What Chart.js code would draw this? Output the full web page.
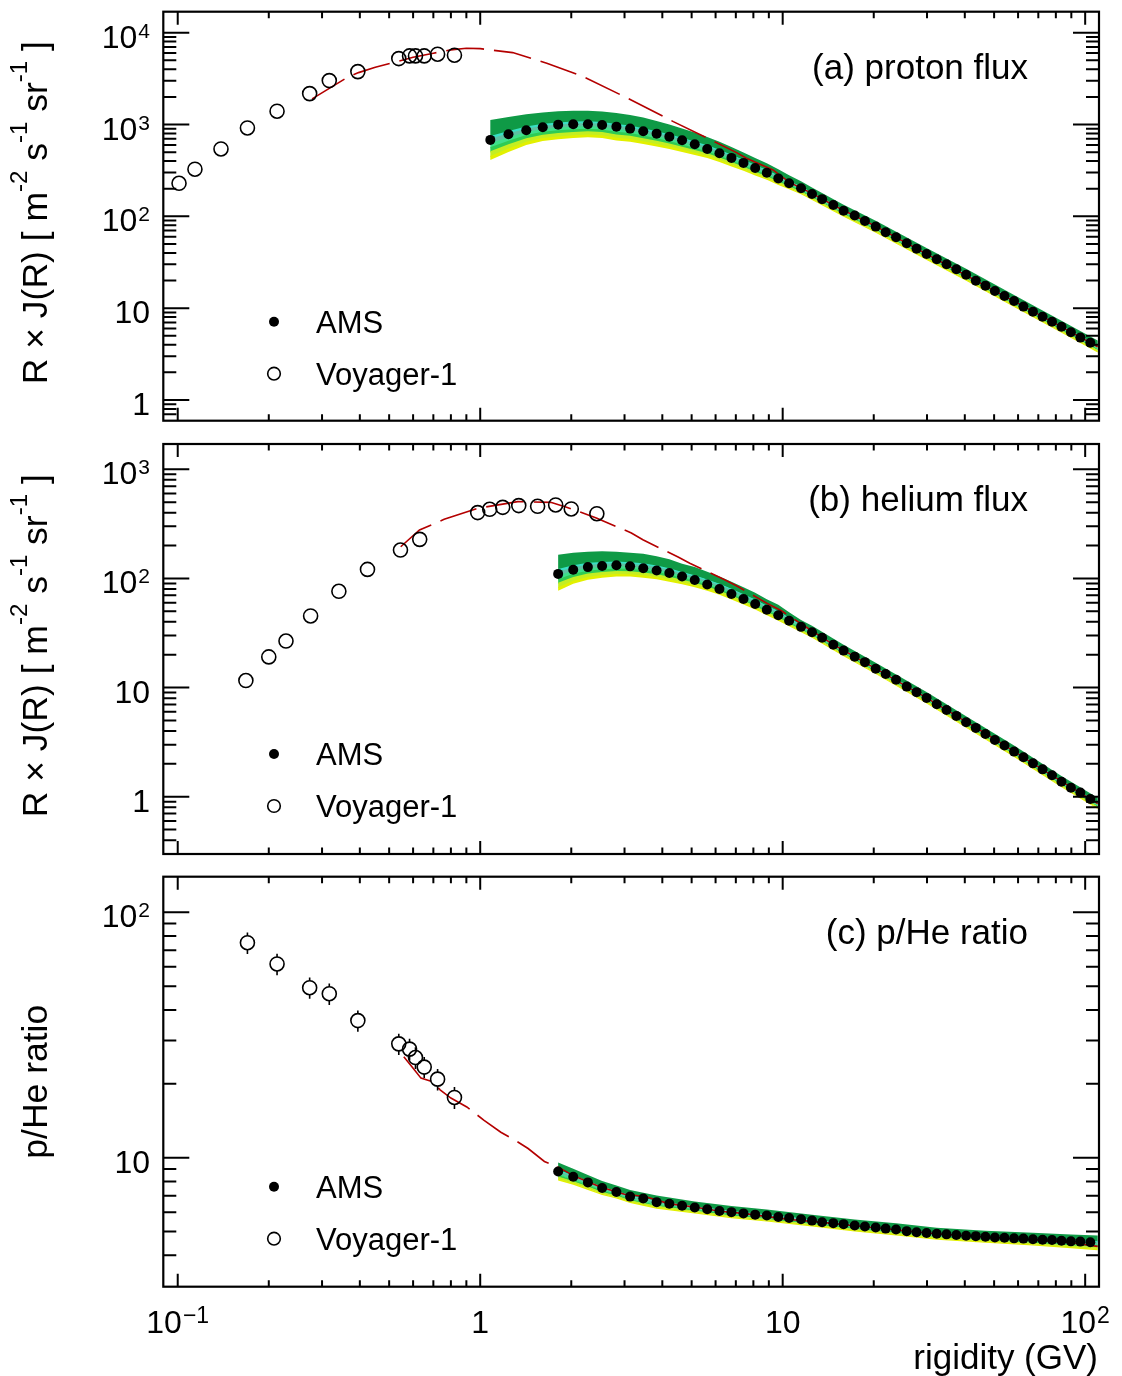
<!DOCTYPE html>
<html lang="en">
<head>
<meta charset="UTF-8">
<title>Proton and helium flux, p/He ratio</title>
<script src="https://cdn.jsdelivr.net/npm/chart.js@4.4.1/dist/chart.umd.min.js"></script>
<style>
  body { margin: 0; background: #fff; }
  #wrap { position: relative; width: 1122px; height: 1376px; background: #fff; }
  canvas { position: absolute; left: 0; }
</style>
</head>
<body>
<div id="wrap">
  <canvas id="chartA" width="1122" height="432" style="top:0px"></canvas>
  <canvas id="chartB" width="1122" height="433" style="top:432px"></canvas>
  <canvas id="chartC" width="1122" height="511" style="top:865px"></canvas>
</div>
<script>
// ---- AMS rigidity bins (GV, bin centres) ----
const amsR = [1.08, 1.24, 1.42, 1.61, 1.81, 2.03, 2.27, 2.53, 2.82, 3.13, 3.46, 3.83, 4.22, 4.65, 5.12, 5.63,
  6.18, 6.77, 7.42, 8.11, 8.86, 9.67, 10.5, 11.5, 12.5, 13.5, 14.7, 15.9, 17.3, 18.7, 20.3, 21.9, 23.7, 25.7,
  27.7, 29.9, 32.3, 34.8, 37.5, 40.4, 43.5, 46.8, 50.3, 54.1, 58.2, 62.5, 67.2, 72.3, 77.7, 83.5, 89.7, 96.4, 104];
// helium and p/He start at the 1.81 GV bin
const amsRHe = amsR.slice(4);

// (a) proton flux  R x J(R)
const amsP = [680, 784, 867, 935, 997, 1008, 1008, 990, 948, 903, 845, 796, 738, 675, 610, 542, 487, 433, 382, 336,
  298, 259, 229, 202, 175, 154, 133, 115, 102, 89, 77.3, 67.1, 59.2, 50.9, 44.5, 38.9, 34.1, 30.1, 26.5, 23.1,
  19.9, 17.6, 15.4, 13.6, 12.0, 10.4, 9.16, 8.08, 7.13, 6.29, 5.46, 4.78, 4.21];
const voyRp = [0.101, 0.114, 0.139, 0.170, 0.213, 0.273, 0.317, 0.394, 0.538, 0.584, 0.611, 0.653, 0.723, 0.822];
const voyP = [229, 326, 542, 918, 1396, 2171, 3008, 3769, 5224, 5589, 5589, 5589, 5831, 5687];
const modRa = [0.278, 0.32, 0.367, 0.396, 0.45, 0.53, 0.6, 0.7, 0.8, 0.9, 1.0, 1.075, 1.28, 1.66, 2.19, 3.12,
  4.35, 5.45, 7.04, 7.59, 9.29, 10.5, 12.5, 15, 20.3, 30, 50, 75, 110];
const modA = [1901, 2520, 3325, 3675, 4200, 4843, 5400, 5980, 6500, 6780, 6700, 6500, 6070, 4655, 3325, 1888,
  1076, 751, 494, 429, 320, 236, 178, 128, 78, 38.7, 15.6, 7.6, 3.8];
const bandRa = [1.08, 1.24, 1.42, 1.61, 1.81, 2.03, 2.27, 2.53, 2.82, 3.13, 3.46, 3.83, 4.22, 4.65, 5.12, 5.63,
  6.18, 6.77, 7.42, 8.11, 8.86, 9.67, 10.5, 11.5, 12.5, 15.9, 20.3, 29.9, 40.4, 58.2, 83.5, 110];
const bandHiA = [1122, 1211, 1295, 1355, 1396, 1417, 1417, 1389, 1337, 1273, 1189, 1094, 1002, 907, 820, 733,
  651, 570, 497, 432, 378, 325, 280, 241, 206, 134, 89.8, 45.2, 26.8, 13.9, 7.31, 4.44];
const bandLoA = [411, 503, 600, 663, 692, 715, 728, 715, 671, 651, 615, 577, 542, 503, 466, 433,
  391, 350, 313, 278, 250, 220, 197, 174, 151, 99.0, 66.5, 33.5, 19.9, 10.3, 5.41, 3.29];

// (b) helium flux  R x J(R)
const amsHe = [110, 120, 127, 130, 132, 129, 124, 118, 112, 104, 96.7, 88.1, 80.0, 72.0, 64.7, 58.2, 51.6, 46.0,
  40.9, 36.0, 32.1, 28.6, 24.7, 21.8, 19.2, 17.1, 14.9, 13.3, 11.8, 10.2, 9.08, 8.04, 7.04, 6.24, 5.50, 4.81,
  4.27, 3.76, 3.31, 2.94, 2.59, 2.30, 2.02, 1.78, 1.57, 1.37, 1.21, 1.09, 0.953];
const voyRhe = [0.168, 0.200, 0.228, 0.275, 0.341, 0.424, 0.545, 0.631, 0.981, 1.075, 1.187, 1.341, 1.548, 1.776, 2.00, 2.43];
const voyHe = [11.6, 19.1, 26.7, 45.3, 76.2, 121, 182, 228, 401, 430, 448, 465, 458, 471, 433, 392];
const modRb = [0.546, 0.63, 0.76, 0.98, 1.33, 1.71, 1.93, 2.42, 3.16, 3.45, 4.51, 4.93, 6.43, 7.03, 8.85, 9.9,
  12.5, 15, 20.3, 30, 50, 75, 110];
const modB = [195, 278, 348, 439, 505, 498, 450, 358, 261, 226, 157, 138, 97.3, 85.7, 59.4, 50.6,
  33.0, 24.0, 14.9, 8.0, 3.4, 1.66, 0.865];
const bandRb = [1.81, 2.03, 2.27, 2.53, 2.82, 3.13, 3.46, 3.83, 4.22, 4.65, 5.12, 5.63, 6.18, 6.77, 7.42, 8.11,
  8.86, 9.67, 10.5, 11.5, 12.5, 15.9, 20.3, 29.9, 40.4, 58.2, 83.5, 110];
const bandHiB = [165, 172, 176, 177, 176, 172, 168.5, 160, 150, 136, 127, 115, 104, 93.3, 83.1, 73.9,
  64.5, 57.4, 49.0, 41.7, 36.8, 24.7, 16.9, 9.13, 5.46, 2.94, 1.55, 0.98];
const bandLoB = [77.1, 89.4, 97.3, 101.5, 104, 104, 101.5, 98.3, 93.3, 88.5, 83.1, 77.1, 70.9, 64.1, 57.6, 51.8,
  45.9, 41.0, 36.4, 32.1, 28.6, 19.4, 13.3, 7.16, 4.28, 2.31, 1.22, 0.77];

// (c) p/He ratio
const amsRatio = [8.78, 8.36, 7.93, 7.52, 7.25, 6.94, 6.82, 6.59, 6.49, 6.37, 6.27, 6.16, 6.06, 6.00, 5.93, 5.86,
  5.81, 5.73, 5.68, 5.61, 5.54, 5.46, 5.41, 5.36, 5.29, 5.24, 5.19, 5.14, 5.10, 5.02, 4.97, 4.93, 4.90, 4.87,
  4.84, 4.81, 4.79, 4.76, 4.73, 4.72, 4.69, 4.68, 4.65, 4.63, 4.62, 4.59, 4.56, 4.55, 4.52];
const voyRr = [0.170, 0.213, 0.273, 0.317, 0.394, 0.538, 0.584, 0.611, 0.653, 0.723, 0.822];
const voyRatio = [75.2, 61.6, 49.3, 46.6, 36.2, 29.1, 27.7, 25.6, 23.4, 20.9, 17.6];
const voyRatioErr = [7.5, 6.2, 4.9, 4.7, 3.6, 2.9, 2.8, 2.6, 2.3, 2.1, 1.8];
const modRc = [0.559, 0.601, 0.637, 0.695, 0.737, 0.80, 0.903, 1.03, 1.17, 1.30, 1.44, 1.63, 1.80, 2.03, 2.5, 3.0,
  3.5, 4.2, 5.1, 6.2, 7.4, 8.9, 10.5, 13.5, 17.3, 23.7, 32.3, 46.8, 67.2, 89.7, 110];
const modC = [25.8, 23.1, 21.1, 20.4, 18.9, 17.5, 16.1, 14.2, 12.7, 11.8, 10.9, 9.65, 9.2, 8.45, 7.6, 7.1,
  6.95, 6.5, 6.3, 6.05, 5.93, 5.75, 5.6, 5.45, 5.28, 5.08, 4.9, 4.75, 4.62, 4.5, 4.35];
const bandRc = [1.81, 2.03, 2.27, 2.53, 2.82, 3.13, 3.83, 5.12, 6.77, 8.86, 12.5, 17.3, 23.7, 32.3, 46.8, 67.2, 89.7, 110];
const bandHiC = [9.55, 9.01, 8.51, 8.03, 7.71, 7.38, 7.01, 6.63, 6.35, 6.15, 5.86, 5.60, 5.40, 5.18, 5.04, 4.94, 4.86, 4.82];
const bandLoC = [8.07, 7.75, 7.39, 7.04, 6.82, 6.53, 6.20, 5.93, 5.67, 5.49, 5.24, 5.00, 4.82, 4.63, 4.50, 4.39, 4.27, 4.20];

// ---- axes ----
const xMin = 0.0896, xMax = 111.1;
const xMajor = [0.1, 1, 10, 100];
const xMinor = [0.2, 0.3, 0.4, 0.5, 0.6, 0.7, 0.8, 0.9, 2, 3, 4, 5, 6, 7, 8, 9, 20, 30, 40, 50, 60, 70, 80, 90];
const xLabels = [[0.1, '10', '\u22121'], [1, '1', ''], [10, '10', ''], [100, '10', '2']];

const yMinorA = [0.7, 0.8, 0.9, 2, 3, 4, 5, 6, 7, 8, 9, 20, 30, 40, 50, 60, 70, 80, 90,
  200, 300, 400, 500, 600, 700, 800, 900, 2000, 3000, 4000, 5000, 6000, 7000, 8000, 9000];
const yMinorB = [0.4, 0.5, 0.6, 0.7, 0.8, 0.9, 2, 3, 4, 5, 6, 7, 8, 9, 20, 30, 40, 50, 60, 70, 80, 90,
  200, 300, 400, 500, 600, 700, 800, 900];
const yMinorC = [4, 5, 6, 7, 8, 9, 20, 30, 40, 50, 60, 70, 80, 90];

const fluxTitle = [['R \u00d7 J(R) [ m', 0], ['-2', 1], [' s', 0], ['-1', 1], [' sr', 0], ['-1', 1], [' ]', 0]];

const panels = {
  chartA: {
    yMin: 0.5953, yMax: 16930, yMajor: [1, 10, 100, 1000, 10000], yMinor: yMinorA,
    yLabels: [[1, '1', ''], [10, '10', ''], [100, '10', '2'], [1000, '10', '3'], [10000, '10', '4']],
    title: fluxTitle, titleOffset: 201, label: '(a) proton flux',
    band: [bandRa, bandHiA, bandLoA], dashEnd: 7.5,
    pad: { left: 163.3, right: 23, top: 11.7, bottom: 11.3 }
  },
  chartB: {
    yMin: 0.2985, yMax: 1705, yMajor: [1, 10, 100, 1000], yMinor: yMinorB,
    yLabels: [[1, '1', ''], [10, '10', ''], [100, '10', '2'], [1000, '10', '3']],
    title: fluxTitle, titleOffset: 201.8, label: '(b) helium flux',
    band: [bandRb, bandHiB, bandLoB], dashEnd: 10,
    pad: { left: 163.3, right: 23, top: 12, bottom: 11 }
  },
  chartC: {
    yMin: 2.98, yMax: 139.7, yMajor: [10, 100], yMinor: yMinorC,
    yLabels: [[10, '10', ''], [100, '10', '2']],
    title: [['p/He ratio', 0]], titleOffset: 205, label: '(c) p/He ratio',
    band: [bandRc, bandHiC, bandLoC], dashEnd: 1.8, errors: voyRatioErr, xAxis: true,
    pad: { left: 163.3, right: 23, top: 11.7, bottom: 89.3 }
  }
};

const FONT = '"Liberation Sans", Arial, Helvetica, sans-serif';
// colour stripes of the AMS time-variation band, top to bottom
const stripes = [
  [0.00, 0.40, '#0f9a46'], [0.40, 0.47, '#38e0c4'], [0.47, 0.58, '#5cc2a2'],
  [0.58, 0.68, '#3ee08a'], [0.68, 0.78, '#2fcb55'], [0.78, 0.90, '#c4ee22'], [0.90, 1.00, '#e2f000']
];

function supText(ctx, base, sup, x, y, align, supSize) {
  ctx.font = '32px ' + FONT;
  const wb = ctx.measureText(base).width;
  ctx.font = supSize + 'px ' + FONT;
  const ws = sup ? ctx.measureText(sup).width + 1 : 0;
  const x0 = align === 'right' ? x - wb - ws : x - (wb + ws) / 2;
  ctx.textAlign = 'left';
  ctx.font = '32px ' + FONT;
  ctx.fillText(base, x0, y);
  if (sup) {
    ctx.font = supSize + 'px ' + FONT;
    ctx.fillText(sup, x0 + wb + 1, y - 10);
  }
}

function drawTitle(ctx, parts, cx, cy) {
  ctx.save();
  ctx.translate(cx, cy);
  ctx.rotate(-Math.PI / 2);
  const font = s => (s ? '24px ' : '35.5px ') + FONT;
  let total = 0;
  const w = parts.map(([t, s]) => { ctx.font = font(s); const m = ctx.measureText(t).width; total += m; return m; });
  let xx = -total / 2;
  ctx.textAlign = 'left';
  parts.forEach(([t, s], i) => {
    ctx.font = font(s);
    ctx.fillText(t, xx, s ? -20 : 0);
    xx += w[i];
  });
  ctx.restore();
}

const rootFrame = {
  id: 'rootFrame',
  beforeDatasetsDraw(chart) {
    const p = panels[chart.canvas.id];
    const { ctx, chartArea: a } = chart;
    const x = chart.scales.x, y = chart.scales.y;
    const [R, hi, lo] = p.band;
    const px = R.map(v => x.getPixelForValue(v));
    const ph = hi.map(v => y.getPixelForValue(v));
    const pl = lo.map(v => y.getPixelForValue(v));
    ctx.save();
    ctx.beginPath();
    ctx.rect(a.left, a.top, a.right - a.left, a.bottom - a.top);
    ctx.clip();
    stripes.forEach(([f0, f1, col]) => {
      ctx.beginPath();
      px.forEach((xx, i) => ctx.lineTo(xx, ph[i] + f0 * (pl[i] - ph[i])));
      for (let i = px.length - 1; i >= 0; i--) ctx.lineTo(px[i], ph[i] + Math.min(1, f1 + 0.03) * (pl[i] - ph[i]));
      ctx.closePath();
      ctx.fillStyle = col;
      ctx.fill();
    });
    ctx.restore();
  },
  afterDatasetsDraw(chart) {
    const p = panels[chart.canvas.id];
    if (!p.errors) return;
    const { ctx } = chart;
    const x = chart.scales.x, y = chart.scales.y;
    const pts = chart.data.datasets[1].data;
    ctx.save();
    ctx.strokeStyle = '#000';
    ctx.lineWidth = 1.6;
    ctx.beginPath();
    pts.forEach((pt, i) => {
      const xx = x.getPixelForValue(pt.x), yy = y.getPixelForValue(pt.y);
      const yt = y.getPixelForValue(pt.y + p.errors[i]), yb = y.getPixelForValue(pt.y - p.errors[i]);
      ctx.moveTo(xx, yt); ctx.lineTo(xx, yy - 7);
      ctx.moveTo(xx, yy + 7); ctx.lineTo(xx, yb);
    });
    ctx.stroke();
    ctx.restore();
  },
  afterDraw(chart) {
    const p = panels[chart.canvas.id];
    const { ctx, chartArea: a } = chart;
    const x = chart.scales.x, y = chart.scales.y;
    ctx.save();
    ctx.strokeStyle = '#000';
    ctx.fillStyle = '#000';
    ctx.lineWidth = 2;
    ctx.beginPath();
    const seg = (x0, y0, x1, y1) => { ctx.moveTo(x0, y0); ctx.lineTo(x1, y1); };
    xMajor.forEach(v => { const q = x.getPixelForValue(v); seg(q, a.bottom, q, a.bottom - 13); seg(q, a.top, q, a.top + 13); });
    xMinor.forEach(v => { const q = x.getPixelForValue(v); seg(q, a.bottom, q, a.bottom - 6.5); seg(q, a.top, q, a.top + 6.5); });
    p.yMajor.forEach(v => { const q = y.getPixelForValue(v); seg(a.left, q, a.left + 26, q); seg(a.right, q, a.right - 26, q); });
    p.yMinor.forEach(v => { const q = y.getPixelForValue(v); seg(a.left, q, a.left + 13, q); seg(a.right, q, a.right - 13, q); });
    ctx.stroke();
    ctx.lineWidth = 2.2;
    ctx.strokeRect(a.left, a.top, a.right - a.left, a.bottom - a.top);

    ctx.textBaseline = 'alphabetic';
    p.yLabels.forEach(([v, b, s]) => supText(ctx, b, s, 150, y.getPixelForValue(v) + 15, 'right', 21));
    if (p.xAxis) {
      xLabels.forEach(([v, b, s]) => supText(ctx, b, s, x.getPixelForValue(v), a.bottom + 46.3, 'center', 23));
      ctx.font = '35px ' + FONT;
      ctx.textAlign = 'right';
      ctx.fillText('rigidity (GV)', 1098, a.bottom + 82.3);
    }
    drawTitle(ctx, p.title, 46.5, a.top + p.titleOffset);

    ctx.font = '35px ' + FONT;
    ctx.textAlign = 'right';
    ctx.fillText(p.label, 1028, a.top + 67);

    // legend
    const l1 = a.top + 310, l2 = a.top + 362;
    ctx.beginPath();
    ctx.arc(274, l1, 5, 0, Math.PI * 2);
    ctx.fill();
    ctx.beginPath();
    ctx.lineWidth = 1.6;
    ctx.arc(274, l2, 6.3, 0, Math.PI * 2);
    ctx.stroke();
    ctx.font = '31px ' + FONT;
    ctx.textAlign = 'left';
    ctx.fillText(chart.data.datasets[0].label, 316, l1 + 11);
    ctx.fillText(chart.data.datasets[1].label, 316, l2 + 11);
    ctx.restore();
  }
};

const toXY = (xs, ys) => xs.map((v, i) => ({ x: v, y: ys[i] }));

function makeChart(id, ams, voy, model) {
  const p = panels[id];
  return new Chart(document.getElementById(id), {
    type: 'scatter',
    data: {
      datasets: [
        { label: 'AMS', data: ams, pointRadius: 5, pointBorderWidth: 0, backgroundColor: '#000', borderColor: '#000', clip: 0 },
        { label: 'Voyager-1', data: voy, pointRadius: 7, pointBorderWidth: 1.6, borderColor: '#000', backgroundColor: 'rgba(0,0,0,0)', clip: 0 },
        {
          type: 'line', label: 'model', data: model, showLine: true, pointRadius: 0, borderColor: '#b40000',
          borderWidth: 1.6, fill: false, tension: 0, clip: 0,
          segment: { borderDash: c => (c.p0.parsed.x < p.dashEnd ? [38, 10] : []) }
        }
      ]
    },
    options: {
      responsive: false,
      animation: false,
      events: [],
      layout: { padding: p.pad },
      plugins: { legend: { display: false }, tooltip: { enabled: false } },
      scales: {
        x: { type: 'logarithmic', min: xMin, max: xMax, bounds: 'data', display: false },
        y: { type: 'logarithmic', min: p.yMin, max: p.yMax, bounds: 'data', display: false }
      }
    },
    plugins: [rootFrame]
  });
}

makeChart('chartA', toXY(amsR, amsP), toXY(voyRp, voyP), toXY(modRa, modA));
makeChart('chartB', toXY(amsRHe, amsHe), toXY(voyRhe, voyHe), toXY(modRb, modB));
makeChart('chartC', toXY(amsRHe, amsRatio), toXY(voyRr, voyRatio), toXY(modRc, modC));
</script>
</body>
</html>
